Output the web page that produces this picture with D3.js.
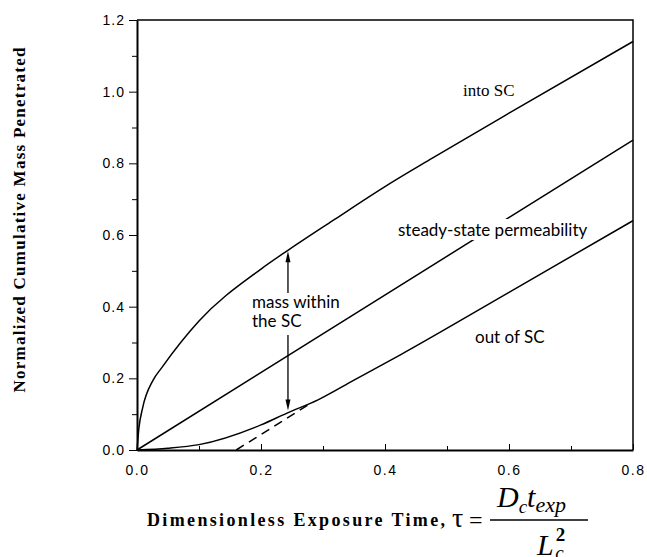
<!DOCTYPE html>
<html>
<head>
<meta charset="utf-8">
<script src="https://cdn.jsdelivr.net/npm/d3@7"></script>
<style>
  html, body { margin: 0; padding: 0; background: #fff; }
  svg { display: block; }
</style>
</head>
<body>
<script>
// ---- data ----
const xTickValues = [0, 0.2, 0.4, 0.6, 0.8];
const xMinorTicks = [0.1, 0.3, 0.5, 0.7];
const yTickValues = [0, 0.2, 0.4, 0.6, 0.8, 1.0, 1.2];
const yMinorTicks = [0.1, 0.3, 0.5, 0.7, 0.9, 1.1];

const intoTau  = [0, 0.003, 0.009, 0.026, 0.04, 0.1, 0.2, 0.244, 0.32, 0.4, 0.477, 0.6, 0.8];
const intoMass = [0, 0.06, 0.117, 0.195, 0.23, 0.36, 0.505, 0.558, 0.645, 0.735, 0.815, 0.94, 1.14];

const steadyTau  = [0, 0.8];
const steadyMass = [0, 0.865];

const outTau  = [0, 0.05, 0.1, 0.2, 0.242, 0.292, 0.35, 0.424, 0.6, 0.8];
const outMass = [0, 0.005, 0.015, 0.07, 0.103, 0.14, 0.195, 0.265, 0.44, 0.64];

const asymTau  = [0.16, 0.28];
const asymMass = [0, 0.13];

// arrow annotation (data units)
const arrowTau = 0.2435, arrowLow = 0.11, arrowHigh = 0.555;
const arrowGapLow = 0.321, arrowGapHigh = 0.438;

// ---- layout ----
const W = 647, H = 557;
const x = d3.scaleLinear().domain([0, 0.8]).range([137, 633]);
const y = d3.scaleLinear().domain([0, 1.2]).range([450, 20]);

const svg = d3.select("body").append("svg").attr("width", W).attr("height", H);

const tickFont = "'Liberation Sans', Arial, sans-serif";

// frame (top and right)
svg.append("path")
  .attr("d", `M${x(0)},${y(1.2)}H${x(0.8)}V${y(0)}`)
  .attr("fill", "none").attr("stroke", "#000").attr("stroke-width", 1.5);

// X axis
const xAxis = svg.append("g").attr("transform", `translate(0,${y(0)})`)
  .call(d3.axisBottom(x).tickValues(xTickValues).tickFormat(d3.format(".1f")).tickSizeInner(-6).tickSizeOuter(0).tickPadding(15));
xAxis.select(".domain").attr("stroke-width", 2);
xAxis.selectAll("text").attr("font-family", tickFont).attr("font-size", 14).attr("letter-spacing", "1.5px").attr("fill", "#000");
svg.append("g").attr("transform", `translate(0,${y(0)})`)
  .call(d3.axisBottom(x).tickValues(xMinorTicks).tickFormat("").tickSizeInner(-4).tickSizeOuter(0))
  .call(g => g.select(".domain").remove());

// Y axis
const yAxis = svg.append("g").attr("transform", `translate(${x(0)},0)`)
  .call(d3.axisLeft(y).tickValues(yTickValues).tickFormat(d3.format(".1f")).tickSizeInner(8).tickSizeOuter(0).tickPadding(4));
yAxis.select(".domain").attr("stroke-width", 2);
yAxis.selectAll("text").attr("font-family", tickFont).attr("font-size", 14).attr("letter-spacing", "1px").attr("fill", "#000");
svg.append("g").attr("transform", `translate(${x(0)},0)`)
  .call(d3.axisLeft(y).tickValues(yMinorTicks).tickFormat("").tickSizeInner(5).tickSizeOuter(0))
  .call(g => g.select(".domain").remove());

// curves
const smooth = d3.line().x(d => x(d[0])).y(d => y(d[1])).curve(d3.curveMonotoneX);
const series = [
  { t: intoTau, m: intoMass, dash: null },
  { t: steadyTau, m: steadyMass, dash: null },
  { t: outTau, m: outMass, dash: null },
  { t: asymTau, m: asymMass, dash: "9,6" }
];
series.forEach(s => {
  svg.append("path")
    .datum(s.t.map((t, i) => [t, s.m[i]]))
    .attr("d", smooth)
    .attr("fill", "none").attr("stroke", "#000").attr("stroke-width", 1.5)
    .attr("stroke-dasharray", s.dash);
});

// arrow
const ax = x(arrowTau);
svg.append("line").attr("x1", ax).attr("x2", ax).attr("y1", y(arrowHigh) + 8).attr("y2", y(arrowGapHigh))
  .attr("stroke", "#000").attr("stroke-width", 1.3);
svg.append("line").attr("x1", ax).attr("x2", ax).attr("y1", y(arrowGapLow)).attr("y2", y(arrowLow) - 8)
  .attr("stroke", "#000").attr("stroke-width", 1.3);
svg.append("path").attr("d", `M${ax},${y(arrowHigh)}L${ax - 2.5},${y(arrowHigh) + 11}L${ax + 2.5},${y(arrowHigh) + 11}Z`).attr("fill", "#000");
svg.append("path").attr("d", `M${ax},${y(arrowLow)}L${ax - 2.5},${y(arrowLow) - 11}L${ax + 2.5},${y(arrowLow) - 11}Z`).attr("fill", "#000");

// annotations
const annoFont = "Lato, 'Open Sans', sans-serif";
function label(tx, ty, txt, fam, size, mask) {
  const g = svg.append("g");
  const t = g.append("text").attr("x", tx).attr("y", ty).attr("font-family", fam).attr("font-size", size).text(txt);
  if (mask) {
    const b = t.node().getBBox();
    g.insert("rect", "text").attr("x", b.x - 2).attr("y", b.y).attr("width", b.width + 4).attr("height", b.height).attr("fill", "#fff");
  }
}
label(463, 96, "into SC", "'Liberation Serif', serif", 17, false);
label(398, 236, "steady-state permeability", annoFont, 17, true);
label(475, 343, "out of SC", annoFont, 17, false);
label(252, 308, "mass within", annoFont, 17, false);
label(252, 327, "the SC", annoFont, 17, false);

// y label
svg.append("text")
  .attr("transform", "translate(25,220) rotate(-90)")
  .attr("text-anchor", "middle")
  .attr("font-family", "'Liberation Serif', serif").attr("font-weight", "bold").attr("font-size", 17)
  .attr("textLength", 345).attr("lengthAdjust", "spacing")
  .text("Normalized Cumulative Mass Penetrated");

// x label
svg.append("text").attr("x", 147).attr("y", 526)
  .attr("font-family", "'Liberation Serif', serif").attr("font-weight", "bold").attr("font-size", 18)
  .attr("textLength", 298).attr("lengthAdjust", "spacing")
  .text("Dimensionless Exposure Time,");
const eq = svg.append("g").attr("font-family", "'Liberation Serif', serif").attr("fill", "#000");
eq.append("text").attr("x", 452).attr("y", 527).attr("font-size", 28).text("τ");
eq.append("text").attr("x", 469).attr("y", 528).attr("font-size", 24).text("=");
const num = eq.append("text").attr("x", 497).attr("y", 507).attr("font-style", "italic").attr("font-size", 30);
num.append("tspan").text("D");
num.append("tspan").attr("font-size", 19).attr("dy", 6).text("c");
num.append("tspan").attr("dy", -6).text("t");
num.append("tspan").attr("font-size", 22).attr("dy", 5).text("exp");
eq.append("line").attr("x1", 490).attr("x2", 588).attr("y1", 520).attr("y2", 520).attr("stroke", "#000").attr("stroke-width", 1.5);
const den = eq.append("text").attr("x", 537).attr("y", 555).attr("font-style", "italic").attr("font-size", 30);
den.append("tspan").text("L");
den.append("tspan").attr("font-size", 19).attr("font-style", "normal").attr("font-weight", "bold").attr("dx", 2).attr("dy", -14).text("2");
den.append("tspan").attr("font-size", 19).attr("dx", -10).attr("dy", 18).text("c");
</script>
</body>
</html>
